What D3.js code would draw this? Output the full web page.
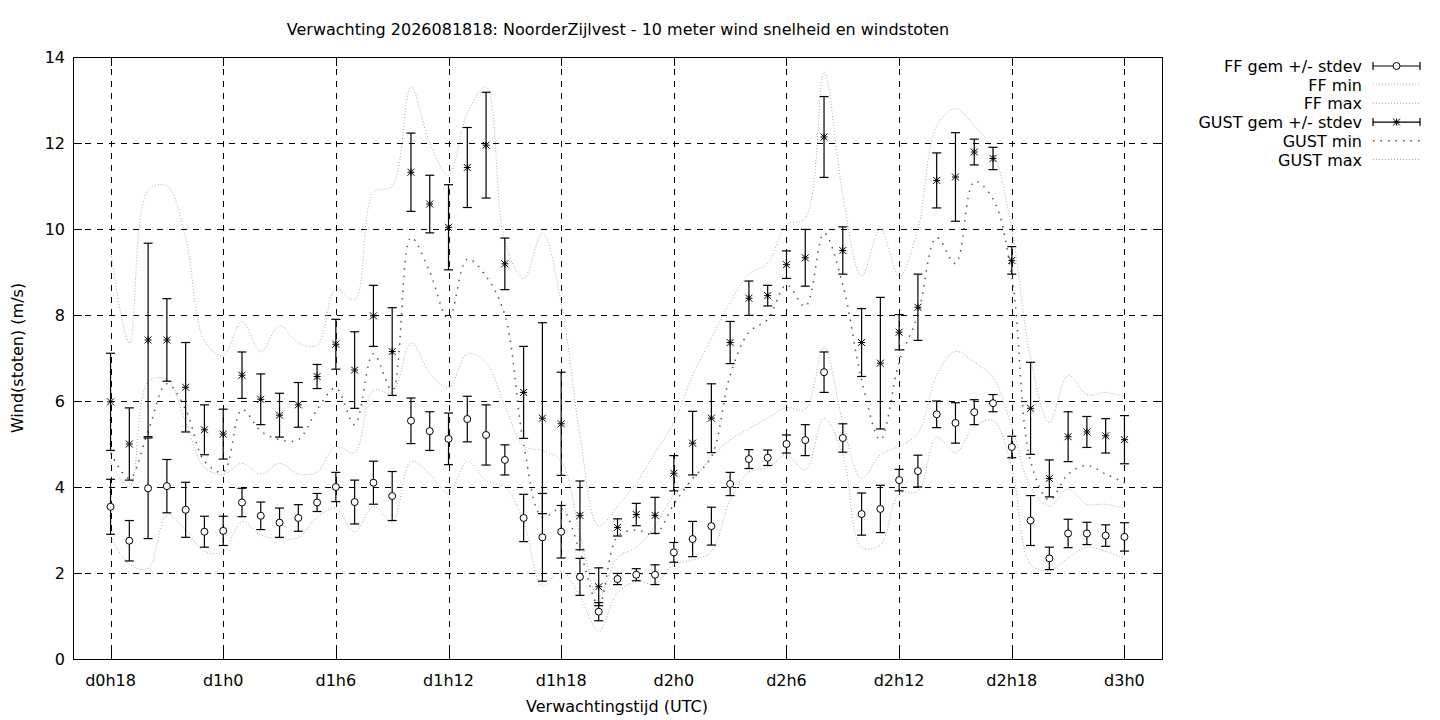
<!DOCTYPE html>
<html>
<head>
<meta charset="utf-8">
<script src="https://cdn.jsdelivr.net/npm/d3@7"></script>
<style>
body{margin:0;background:#fff;}
text{font-family:"DejaVu Sans",sans-serif;font-size:16px;fill:#000;}
</style>
</head>
<body>
<svg id="chart" width="1440" height="720"></svg>
<script>
'use strict'
// uren na d0h0
var uren = [18,19,20,21,22,23,24,25,26,27,28,29,30,31,32,33,34,35,36,37,38,39,40,41,42,43,44,45,
	46,47,48,49,50,51,52,53,54,55,56,57,58,59,60,61,62,63,64,65,66,67,68,69,70,71,72];

var ffGem = [3.54,2.75,3.97,4.02,3.47,2.96,2.98,3.64,3.33,3.17,3.28,3.64,4.0,3.65,4.1,3.79,5.54,5.3,5.12,
	5.58,5.21,4.63,3.28,2.83,2.96,1.91,1.1,1.86,1.96,1.96,2.48,2.79,3.09,4.07,4.65,4.68,5.0,5.09,6.67,
	5.14,3.37,3.49,4.16,4.37,5.69,5.49,5.74,5.95,4.93,3.22,2.34,2.92,2.92,2.87,2.84];
var ffSd = [0.64,0.47,1.17,0.62,0.64,0.36,0.34,0.33,0.32,0.34,0.31,0.21,0.34,0.51,0.5,0.57,0.53,0.45,0.6,
	0.53,0.7,0.35,0.55,1.02,0.61,0.43,0.21,0.13,0.14,0.23,0.23,0.41,0.44,0.27,0.22,0.18,0.21,0.36,0.47,
	0.33,0.49,0.55,0.25,0.37,0.31,0.47,0.29,0.2,0.25,0.58,0.26,0.33,0.26,0.25,0.33];
var ffMin = [2.85,2.2,2.1,3.35,3.0,2.5,2.5,3.2,2.88,2.8,2.82,3.3,3.5,2.95,3.55,3.2,4.6,4.3,3.85,
	4.6,4.15,4.0,3.2,1.7,2.05,1.45,0.65,1.55,1.8,1.75,2.2,2.3,2.5,3.7,4.35,4.45,4.75,4.4,5.6,
	4.75,2.6,2.65,3.85,3.9,5.15,4.8,5.4,5.55,4.45,2.2,2.05,2.35,2.6,2.5,2.35];
var ffMax = [4.6,4.0,6.45,6.5,5.5,4.45,4.3,4.55,4.3,4.55,4.3,4.35,4.95,4.8,6.25,6.2,7.35,6.65,6.3,
	7.1,6.9,5.9,4.95,4.85,4.6,2.9,1.45,2.35,2.6,3.1,3.8,4.15,4.7,5.1,5.35,5.6,5.85,5.8,7.25,
	5.5,4.2,4.75,4.95,5.25,6.6,7.15,6.9,6.55,5.4,4.0,3.55,3.95,3.6,3.6,3.5];

var gustGem = [5.98,5.0,7.42,7.42,6.32,5.33,5.23,6.6,6.04,5.67,5.91,6.57,7.32,6.72,7.98,7.15,11.32,10.58,10.04,
	11.43,11.95,9.19,6.2,5.6,5.47,3.34,1.68,3.06,3.36,3.34,4.32,5.02,5.6,7.36,8.39,8.45,9.17,9.33,12.14,
	9.5,7.36,6.88,7.6,8.18,11.13,11.21,11.79,11.64,9.27,5.83,4.2,5.17,5.28,5.19,5.1];
var gustSd = [1.13,0.84,2.25,0.96,1.04,0.58,0.58,0.54,0.59,0.51,0.52,0.28,0.58,0.89,0.71,1.02,0.91,0.67,0.99,
	0.93,1.23,0.6,1.07,2.22,1.2,0.8,0.44,0.2,0.26,0.42,0.41,0.74,0.8,0.49,0.4,0.24,0.32,0.66,0.94,
	0.55,0.79,1.53,0.41,0.77,0.64,1.03,0.3,0.26,0.32,1.07,0.43,0.58,0.36,0.4,0.56];
var gustMin = [4.8,4.2,5.3,6.4,5.8,4.6,4.35,5.8,5.3,5.1,5.1,5.8,6.3,5.45,7.1,6.25,9.8,9.0,7.9,
	9.3,8.9,8.0,5.0,3.3,3.5,2.5,1.25,2.85,3.0,2.9,3.6,4.2,4.7,6.6,7.6,7.9,8.7,8.2,9.9,
	8.7,6.5,5.1,6.9,8.0,9.8,9.2,11.1,10.7,8.9,4.6,3.7,4.3,4.5,4.3,4.1];
var gustMax = [9.5,7.35,10.9,11.0,9.8,7.4,7.05,7.85,7.15,7.75,7.35,7.3,8.6,8.35,10.85,11.0,13.3,12.0,11.25,
	12.7,13.3,9.7,8.85,9.9,8.3,5.2,3.1,3.55,4.1,4.8,5.5,6.6,7.45,8.3,8.95,9.2,10.1,10.25,13.65,
	10.8,8.9,10.0,8.9,10.0,12.4,12.8,12.4,11.8,10.0,7.0,5.5,6.6,6.15,6.2,6.1];

var tickUren = [18,24,30,36,42,48,54,60,66,72];
var tickLabels = ["d0h18","d1h0","d1h6","d1h12","d1h18","d2h0","d2h6","d2h12","d2h18","d3h0"];
var yTicks = [0,2,4,6,8,10,12,14];

var titel = "Verwachting 2026081818: NoorderZijlvest - 10 meter wind snelheid en windstoten";

var box = {left: 73, right: 1162, top: 57, bottom: 659};
var svg = d3.select("#chart");

var x = d3.scaleLinear().domain([16, 74]).range([box.left, box.right]),
	y = d3.scaleLinear().domain([0, 14]).range([box.bottom, box.top]);

// grid
var grid = svg.append("g").attr("class", "grid")
	.attr("stroke", "#000").attr("stroke-width", 1).attr("stroke-dasharray", "6,6");
grid.selectAll(".vg").data(tickUren).enter().append("line")
	.attr("x1", function(d){ return Math.round(x(d)) + 0.5; })
	.attr("x2", function(d){ return Math.round(x(d)) + 0.5; })
	.attr("y1", box.top).attr("y2", box.bottom);
grid.selectAll(".hg").data(yTicks.slice(1, -1)).enter().append("line")
	.attr("y1", function(d){ return Math.round(y(d)) + 0.5; })
	.attr("y2", function(d){ return Math.round(y(d)) + 0.5; })
	.attr("x1", box.left).attr("x2", box.right);

// min / max lijnen
var curves = [
	{data: ffMin, color: "#aaa", dash: "1,2", width: 1},
	{data: ffMax, color: "#aaa", dash: "1,2", width: 1},
	{data: gustMin, color: "#555", dash: "1.5,6", width: 1.5},
	{data: gustMax, color: "#aaa", dash: "1,2", width: 1}
];
var line = d3.line().curve(d3.curveCatmullRom.alpha(0.5));
curves.forEach(function(c){
	svg.append("path")
		.attr("d", line(uren.map(function(u, i){ return [x(u), y(c.data[i])]; })))
		.attr("fill", "none")
		.attr("stroke", c.color)
		.attr("stroke-width", c.width)
		.attr("stroke-dasharray", c.dash);
});

// foutbalken
function errorBars(gem, sd, marker){
	var g = svg.append("g").attr("stroke", "#000").attr("stroke-width", 1.2);
	uren.forEach(function(u, i){
		var cx = x(u), lo = y(gem[i] - sd[i]), hi = y(gem[i] + sd[i]);
		g.append("line").attr("x1", cx).attr("x2", cx).attr("y1", lo).attr("y2", hi);
		g.append("line").attr("x1", cx - 4.5).attr("x2", cx + 4.5).attr("y1", lo).attr("y2", lo);
		g.append("line").attr("x1", cx - 4.5).attr("x2", cx + 4.5).attr("y1", hi).attr("y2", hi);
		marker(g, cx, y(gem[i]));
	});
}
function circleMark(g, cx, cy){
	g.append("circle").attr("cx", cx).attr("cy", cy).attr("r", 3.5)
		.attr("fill", "#fff").attr("stroke-width", 1);
}
function starMark(g, cx, cy){
	var s = 3.5;
	g.append("path")
		.attr("d", "M" + (cx - s) + "," + cy + "H" + (cx + s) +
			"M" + cx + "," + (cy - s) + "V" + (cy + s) +
			"M" + (cx - s) + "," + (cy - s) + "L" + (cx + s) + "," + (cy + s) +
			"M" + (cx - s) + "," + (cy + s) + "L" + (cx + s) + "," + (cy - s))
		.attr("stroke-width", 1);
}
errorBars(ffGem, ffSd, circleMark);
errorBars(gustGem, gustSd, starMark);

// rand en ticks
svg.append("rect")
	.attr("x", box.left + 0.5).attr("y", box.top + 0.5)
	.attr("width", box.right - box.left).attr("height", box.bottom - box.top)
	.attr("fill", "none").attr("stroke", "#000").attr("stroke-width", 1);

var ticks = svg.append("g").attr("stroke", "#000").attr("stroke-width", 1);
yTicks.forEach(function(t){
	var yy = Math.round(y(t)) + 0.5;
	ticks.append("line").attr("x1", box.left).attr("x2", box.left + 9).attr("y1", yy).attr("y2", yy);
	ticks.append("line").attr("x1", box.right - 9).attr("x2", box.right).attr("y1", yy).attr("y2", yy);
});
tickUren.forEach(function(t){
	var xx = Math.round(x(t)) + 0.5;
	ticks.append("line").attr("x1", xx).attr("x2", xx).attr("y1", box.bottom).attr("y2", box.bottom - 9);
	ticks.append("line").attr("x1", xx).attr("x2", xx).attr("y1", box.top).attr("y2", box.top + 9);
});

svg.selectAll(".ylab").data(yTicks).enter().append("text")
	.attr("x", 65).attr("y", function(d){ return y(d) + 6; })
	.attr("text-anchor", "end").text(function(d){ return d; });
svg.selectAll(".xlab").data(tickUren).enter().append("text")
	.attr("x", function(d){ return x(d); }).attr("y", 686)
	.attr("text-anchor", "middle").text(function(d, i){ return tickLabels[i]; });

svg.append("text").attr("x", 617).attr("y", 712).attr("text-anchor", "middle").text("Verwachtingstijd (UTC)");
svg.append("text").attr("transform", "translate(23,358) rotate(-90)").attr("text-anchor", "middle").text("Wind(stoten) (m/s)");
svg.append("text").attr("x", 618).attr("y", 35).attr("text-anchor", "middle").text(titel);

// legenda
var legend = [
	{label: "FF gem +/- stdev", type: "err", marker: circleMark},
	{label: "FF min", type: "line", color: "#aaa", dash: "1,2", width: 1},
	{label: "FF max", type: "line", color: "#aaa", dash: "1,2", width: 1},
	{label: "GUST gem +/- stdev", type: "err", marker: starMark},
	{label: "GUST min", type: "line", color: "#555", dash: "1.5,6", width: 1.5},
	{label: "GUST max", type: "line", color: "#aaa", dash: "1,2", width: 1}
];
legend.forEach(function(l, i){
	var ly = 66 + i * 18.7;
	svg.append("text").attr("x", 1362).attr("y", ly + 6).attr("text-anchor", "end").text(l.label);
	if(l.type === "err"){
		var g = svg.append("g").attr("stroke", "#000").attr("stroke-width", 1.2);
		g.append("line").attr("x1", 1373).attr("x2", 1420).attr("y1", ly).attr("y2", ly);
		g.append("line").attr("x1", 1373).attr("x2", 1373).attr("y1", ly - 4).attr("y2", ly + 4);
		g.append("line").attr("x1", 1420).attr("x2", 1420).attr("y1", ly - 4).attr("y2", ly + 4);
		l.marker(g, 1396.5, ly);
	}
	else{
		svg.append("line").attr("x1", 1373).attr("x2", 1420).attr("y1", ly).attr("y2", ly)
			.attr("stroke", l.color).attr("stroke-width", l.width).attr("stroke-dasharray", l.dash);
	}
});
</script>
</body>
</html>
